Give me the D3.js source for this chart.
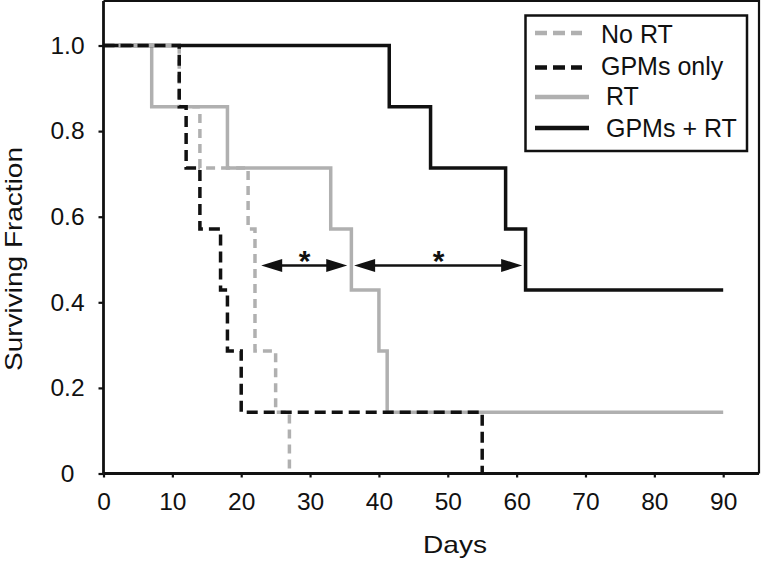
<!DOCTYPE html>
<html><head><meta charset="utf-8">
<script src="https://cdn.jsdelivr.net/npm/d3@7"></script>
<style>
html,body{margin:0;padding:0;background:#fff;}
svg text{font-family:"Liberation Sans",Arial,Helvetica,sans-serif;fill:#111;}
</style></head>
<body><svg id="c" width="763" height="562"></svg>
<script>
// ---- data ----
const noRtDays  = [0, 11, 14, 21, 22, 25, 27];
const noRtSurv  = [1, 0.857, 0.714, 0.571, 0.286, 0.143, 0];
const gpmDays   = [0, 11, 12, 14, 17, 18, 20, 55];
const gpmSurv   = [1, 0.857, 0.714, 0.571, 0.429, 0.286, 0.143, 0];
const rtDays    = [0, 7, 18, 33, 36, 40, 41.2, 90];
const rtSurv    = [1, 0.857, 0.714, 0.571, 0.429, 0.286, 0.143, 0.143];
const comboDays = [0, 41.5, 47.5, 58.4, 61.3, 90];
const comboSurv = [1, 0.857, 0.714, 0.571, 0.429, 0.429];
const seriesNames = ["No RT", "GPMs only", "RT", "GPMs + RT"];
const xTicks = [0, 10, 20, 30, 40, 50, 60, 70, 80, 90];
const yTicks = [0, 0.2, 0.4, 0.6, 0.8, 1.0];
const arrowStarts = [22.9, 36.4];
const arrowEnds   = [35.4, 60.8];
const arrowLevel  = 0.486;
const arrowLabels = ["*", "*"];

// ---- layout ----
const svg = d3.select("#c");
const x = d3.scaleLinear().domain([0, 95.2]).range([103.5, 759]);
const y = d3.scaleLinear().domain([0, 1.104]).range([473.5, 1]);
const GRAY = "#b0b0b0", BLACK = "#111";

const styles = {
  "No RT":     {stroke: GRAY,  dash: "9,6",  w: 3.5},
  "GPMs only": {stroke: BLACK, dash: "11,6", w: 3.5},
  "RT":        {stroke: GRAY,  dash: null,   w: 3.5},
  "GPMs + RT": {stroke: BLACK, dash: null,   w: 3.5}
};
const series = {
  "No RT": d3.zip(noRtDays, noRtSurv),
  "GPMs only": d3.zip(gpmDays, gpmSurv),
  "RT": d3.zip(rtDays, rtSurv),
  "GPMs + RT": d3.zip(comboDays, comboSurv)
};

// frame (top + right)
svg.append("path")
  .attr("d", `M${x(0)},${y(1.104)}H${x(95.2)}V${y(0)}`)
  .attr("fill", "none").attr("stroke", BLACK).attr("stroke-width", 2.2);

// curves
const line = d3.line().x(d => x(d[0])).y(d => y(d[1])).curve(d3.curveStepAfter);
["RT", "GPMs + RT", "No RT", "GPMs only"].forEach(name => {
  const s = styles[name];
  svg.append("path").datum(series[name])
    .attr("d", line).attr("fill", "none")
    .attr("stroke", s.stroke).attr("stroke-width", s.w)
    .attr("stroke-dasharray", s.dash)
    .attr("stroke-linejoin", "miter").attr("stroke-linecap", "butt");
});

// axes
const xAxis = svg.append("g").attr("transform", `translate(0,${y(0)})`)
  .call(d3.axisBottom(x).tickValues(xTicks).tickSize(4).tickPadding(15).tickSizeOuter(0));
xAxis.select(".domain").attr("d", `M${x(0)},0H${x(95.2)}`);
const yAxis = svg.append("g").attr("transform", `translate(${x(0)},0)`)
  .call(d3.axisLeft(y).tickValues(yTicks).tickSize(5).tickSizeOuter(0)
    .tickFormat(d => d === 0 ? "0" : d3.format(".1f")(d)));
yAxis.select(".domain").attr("d", `M0,${y(0)}V${y(1.104)}`);
[xAxis, yAxis].forEach(a => {
  a.select(".domain").attr("stroke", BLACK).attr("stroke-width", 2.8);
  a.selectAll(".tick line").attr("stroke", BLACK).attr("stroke-width", 2.2);
  a.selectAll(".tick text").attr("font-size", 24.5).attr("fill", BLACK)
    .style("font-family", '"Liberation Sans",Arial,sans-serif');
});
yAxis.selectAll(".tick text").attr("text-anchor", "middle").attr("x", -36);

// axis titles
svg.append("text").attr("x", 455).attr("y", 553).attr("text-anchor", "middle")
  .attr("font-size", 24).attr("textLength", 64).attr("lengthAdjust", "spacingAndGlyphs").text("Days");
svg.append("text").attr("transform", "translate(22,259) rotate(-90)").attr("text-anchor", "middle")
  .attr("font-size", 24.5).attr("textLength", 224).attr("lengthAdjust", "spacingAndGlyphs").text("Surviving Fraction");

// significance arrows
const ag = svg.append("g");
arrowStarts.forEach((s, i) => {
  const x0 = x(s), x1 = x(arrowEnds[i]), yy = y(arrowLevel), hl = 21, hw = 6.5;
  ag.append("line").attr("x1", x0 + 5).attr("x2", x1 - 5).attr("y1", yy).attr("y2", yy)
    .attr("stroke", BLACK).attr("stroke-width", 2.5);
  ag.append("path").attr("d", `M${x0},${yy}L${x0 + hl},${yy - hw}L${x0 + hl},${yy + hw}Z`).attr("fill", BLACK);
  ag.append("path").attr("d", `M${x1},${yy}L${x1 - hl},${yy - hw}L${x1 - hl},${yy + hw}Z`).attr("fill", BLACK);
  ag.append("text").attr("x", (x0 + x1) / 2 + 0.5).attr("y", yy + 6).attr("text-anchor", "middle")
    .attr("font-size", 30).attr("font-weight", "bold").text(arrowLabels[i]);
});

// legend
const lg = svg.append("g");
lg.append("rect").attr("x", 525.5).attr("y", 15.5).attr("width", 221.5).attr("height", 135.5)
  .attr("fill", "#fff").attr("stroke", BLACK).attr("stroke-width", 2.5);
const legRowY = [33, 67.5, 97, 128];
const legTextY = [43, 75, 105, 137];
const legSampleEnd = [582, 582, 589, 589];
const legTextX = [601, 601, 606, 606];
seriesNames.forEach((name, i) => {
  const s = styles[name];
  lg.append("line").attr("x1", 535).attr("x2", legSampleEnd[i]).attr("y1", legRowY[i]).attr("y2", legRowY[i])
    .attr("stroke", s.stroke).attr("stroke-width", 4.5).attr("stroke-dasharray", s.dash ? "12,6" : null);
  lg.append("text").attr("x", legTextX[i]).attr("y", legTextY[i]).attr("font-size", 25).text(name);
});
</script></body></html>
